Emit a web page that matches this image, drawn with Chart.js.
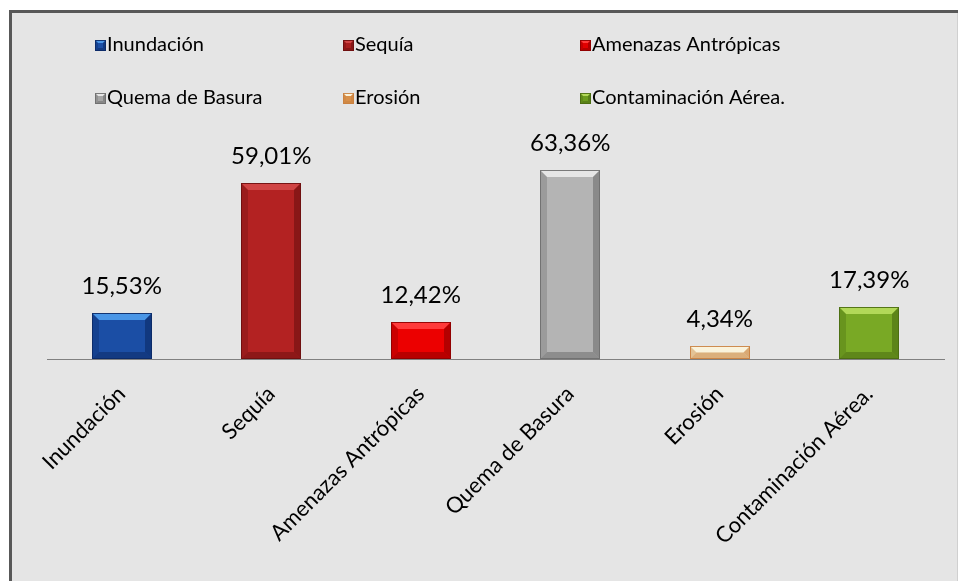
<!DOCTYPE html>
<html>
<head>
<meta charset="utf-8">
<script src="https://cdn.jsdelivr.net/npm/chart.js@4.4.1/dist/chart.umd.min.js"></script>
<style>
html,body{margin:0;padding:0;background:#fff;}
#wrap{position:absolute;left:0;top:0;width:958px;height:581px;}
</style>
</head>
<body>
<div id="wrap"><canvas id="c" width="958" height="581"></canvas></div>
<script>
const categories = ['Inundación', 'Sequía', 'Amenazas Antrópicas', 'Quema de Basura', 'Erosión', 'Contaminación Aérea.'];
const values = [15.53, 59.01, 12.42, 63.36, 4.34, 17.39];
const valueLabels = ['15,53%', '59,01%', '12,42%', '63,36%', '4,34%', '17,39%'];
const mainColors = ['#1b4ea5', '#b32222', '#ec0000', '#b4b4b4', '#f1e7c4', '#79a925'];
const lightColors = ['#4a96e6', '#d04444', '#ff3a3a', '#e6e6e6', '#faf3dc', '#b2d858'];
const darkColors = ['#0c2a66', '#6d1010', '#8e0000', '#6e6e6e', '#c98140', '#4a6c12'];
const legendColors = ['#1b4ea5', '#a81e1e', '#e20000', '#a6a6a6', '#d8904a', '#6c9c1e'];

const FONT = 'Lato, "Liberation Sans", sans-serif';

function bevel(ctx, l, t, r, b, main, light, dark, maxBv) {
  const w = r - l, h = b - t;
  const bv = Math.min(maxBv, w / 2, h / 2);
  ctx.save();
  ctx.fillStyle = main;
  ctx.fillRect(l, t, w, h);
  ctx.fillStyle = light;
  ctx.beginPath(); ctx.moveTo(l, t); ctx.lineTo(r, t); ctx.lineTo(r - bv, t + bv); ctx.lineTo(l + bv, t + bv); ctx.closePath(); ctx.fill();
  ctx.fillStyle = dark;
  ctx.globalAlpha = 0.35;
  ctx.beginPath(); ctx.moveTo(l, t); ctx.lineTo(l + bv, t + bv); ctx.lineTo(l + bv, b - bv); ctx.lineTo(l, b); ctx.closePath(); ctx.fill();
  ctx.globalAlpha = 0.6;
  ctx.beginPath(); ctx.moveTo(r, t); ctx.lineTo(r - bv, t + bv); ctx.lineTo(r - bv, b - bv); ctx.lineTo(r, b); ctx.closePath(); ctx.fill();
  ctx.globalAlpha = 0.55;
  ctx.beginPath(); ctx.moveTo(l, b); ctx.lineTo(r, b); ctx.lineTo(r - bv, b - bv); ctx.lineTo(l + bv, b - bv); ctx.closePath(); ctx.fill();
  ctx.globalAlpha = 0.9;
  ctx.strokeStyle = dark;
  ctx.lineWidth = 1;
  ctx.strokeRect(l + 0.5, t + 0.5, w - 1, h - 1);
  ctx.restore();
}

const framePlugin = {
  id: 'frame',
  beforeDraw(chart) {
    const ctx = chart.ctx;
    ctx.save();
    ctx.fillStyle = '#ffffff';
    ctx.fillRect(0, 0, chart.width, chart.height);
    ctx.fillStyle = '#e5e5e5';
    ctx.fillRect(9, 10, chart.width - 9, chart.height - 10);
    ctx.fillStyle = '#585858';
    ctx.fillRect(9, 10, chart.width - 9, 3);
    ctx.fillRect(9, 10, 3, chart.height - 10);
    ctx.fillStyle = '#d0d0d0';
    ctx.fillRect(chart.width - 1, 13, 1, chart.height - 13);
    ctx.restore();
  }
};

const barPlugin = {
  id: 'bevelBars',
  afterDatasetsDraw(chart) {
    const ctx = chart.ctx;
    const meta = chart.getDatasetMeta(0);
    meta.data.forEach((bar, i) => {
      const p = bar.getProps(['x', 'y', 'base', 'width'], true);
      const l = Math.round(p.x - p.width / 2), r = Math.round(p.x + p.width / 2);
      const t = Math.round(p.y), b = Math.round(p.base);
      bevel(ctx, l, t, r, b, mainColors[i], lightColors[i], darkColors[i], 7);
      ctx.save();
      ctx.fillStyle = '#000';
      ctx.font = '24px ' + FONT;
      ctx.textAlign = 'center';
      ctx.textBaseline = 'alphabetic';
      ctx.fillText(valueLabels[i], p.x, t - 19);
      ctx.restore();
    });
  }
};

const legendPlugin = {
  id: 'gridLegend',
  afterDraw(chart) {
    const ctx = chart.ctx;
    const colsX = [95, 343, 580];
    const rowsY = [45, 98];
    ctx.save();
    ctx.font = '20px ' + FONT;
    ctx.textBaseline = 'middle';
    ctx.textAlign = 'left';
    categories.forEach((name, i) => {
      const cx = colsX[i % 3], cy = rowsY[Math.floor(i / 3)];
      bevel(ctx, cx, cy - 5, cx + 11, cy + 6, legendColors[i], lightColors[i], darkColors[i], 3);
      ctx.fillStyle = '#000';
      ctx.fillText(name, cx + 12, cy);
    });
    ctx.restore();
  }
};

new Chart(document.getElementById('c'), {
  type: 'bar',
  data: {
    labels: categories,
    datasets: [{
      data: values,
      backgroundColor: 'rgba(0,0,0,0)',
      borderWidth: 0,
      categoryPercentage: 1.0,
      barPercentage: 0.40
    }]
  },
  options: {
    responsive: false,
    animation: false,
    devicePixelRatio: 1,
    layout: { padding: { left: 47, right: 14, top: 150, bottom: 0 } },
    plugins: { legend: { display: false }, tooltip: { enabled: false } },
    scales: {
      y: { display: false, min: 0, max: 70 },
      x: {
        grid: { display: false, drawTicks: false },
        border: { display: true, color: '#808080', width: 1 },
        ticks: {
          color: '#000',
          font: { family: FONT, size: 22 },
          minRotation: 45,
          maxRotation: 45,
          padding: 22,
          autoSkip: false
        },
        afterFit(scale) { scale.height = 222; }
      }
    }
  },
  plugins: [framePlugin, barPlugin, legendPlugin]
});
</script>
</body>
</html>
